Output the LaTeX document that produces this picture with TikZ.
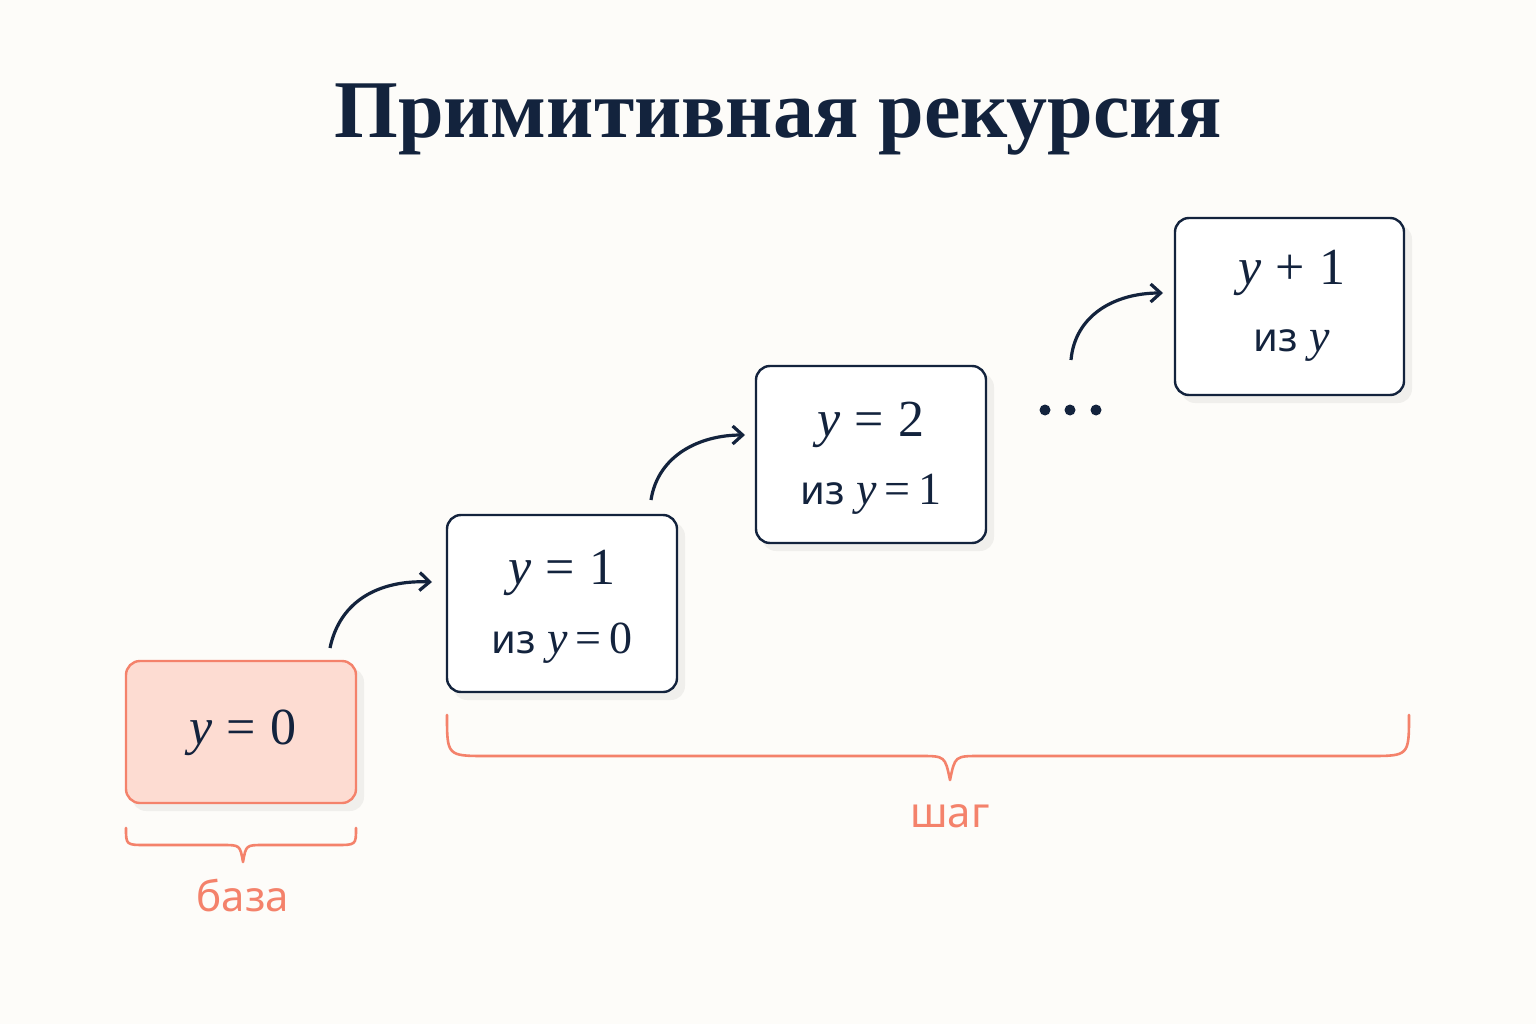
\documentclass[tikz,border=0pt]{standalone}
\usepackage{fontspec}
\setmainfont{Liberation Serif}
\newfontfamily\lsans{Noto Sans}
\usetikzlibrary{arrows.meta}
\definecolor{navy}{HTML}{13233D}
\definecolor{coral}{HTML}{F4826B}
\definecolor{peach}{HTML}{FDDCD2}
\definecolor{bg}{HTML}{FDFCF9}
\newcommand{\vy}{{\itshape y}}
\newcommand{\eqs}{\;=\;}
\newcommand{\iz}{{\lsans\fontsize{40}{44}\selectfont из}}
\begin{document}
\begin{tikzpicture}[x=1pt,y=-1pt,
  box/.style={draw=navy,line width=2.4pt,rounded corners=14pt,fill=white},
  shad/.style={fill=black,opacity=0.05,rounded corners=14pt},
  lab/.style={text=navy,font=\fontsize{52}{56}\selectfont},
  lab2/.style={text=navy,font=\fontsize{46}{50}\selectfont},
  arr/.style={draw=navy,line width=3.2pt,-{Straight Barb[length=10pt,width=18pt]}},
  br/.style={draw=coral,line width=2.6pt,line cap=round,line join=round},
  brl/.style={text=coral,font=\lsans\fontsize{42}{46}\selectfont}]
\fill[bg] (0,0) rectangle (1536,1024);
\useasboundingbox (0,0) rectangle (1536,1024);
\node[text=navy,font=\bfseries\fontsize{82}{86}\selectfont] (title) at (778,120) {Примитивная рекурсия};
% shadows
\fill[shad] (132,668) rectangle (364,811);
\fill[shad] (453,522) rectangle (685,700);
\fill[shad] (762,373) rectangle (994,551);
\fill[shad] (1181,225) rectangle (1412,403);
% boxes
\draw[box,draw=coral,fill=peach] (126,661) rectangle (356,803);
\draw[box] (447,515) rectangle (677,692);
\draw[box] (756,366) rectangle (986,543);
\draw[box] (1175,218) rectangle (1404,395);
\node[lab] (b0) at (243,733) {\vy\eqs0};
\node[lab] (b1a) at (562,573) {\vy\eqs1};
\node[lab2] (b1b) at (562,643) {\iz\ \vy\,=\,0};
\node[lab] (b2a) at (871,425) {\vy\eqs2};
\node[lab2] (b2b) at (871,494) {\iz\ \vy\,=\,1};
\node[lab] (b3a) at (1292,273) {\vy\;+\;1};
\node[lab2] (b3b) at (1292,346) {\iz\ \vy};
% dots
\foreach \x in {1045,1070,1096} \fill[navy] (\x,410) circle (5.5pt);
\coordinate (a1s) at (330,648); \coordinate (a1e) at (432,582);
\coordinate (a2s) at (651,500); \coordinate (a2e) at (745,435);
\coordinate (a3s) at (1071,360); \coordinate (a3e) at (1163,293);
\draw[arr] (a1s) .. controls (340,600) and (380,580) .. (a1e);
\draw[arr] (a2s) .. controls (658,455) and (700,435) .. (a2e);
\draw[arr] (a3s) .. controls (1075,315) and (1115,293) .. (a3e);
% braces
\draw[br] (126,828) .. controls (126,845) .. (146,845) -- (222,845) .. controls (240,845) .. (243,862)
  .. controls (246,845) .. (264,845) -- (336,845) .. controls (356,845) .. (356,828);
\node[brl] (base) at (243,896) {база};
\draw[br] (447,715) .. controls (447,756) .. (487,756) -- (920,756) .. controls (945,756) .. (950,780)
  .. controls (955,756) .. (980,756) -- (1369,756) .. controls (1409,756) .. (1409,715);
\node[brl] (step) at (950,816) {шаг};
\end{tikzpicture}
\end{document}
